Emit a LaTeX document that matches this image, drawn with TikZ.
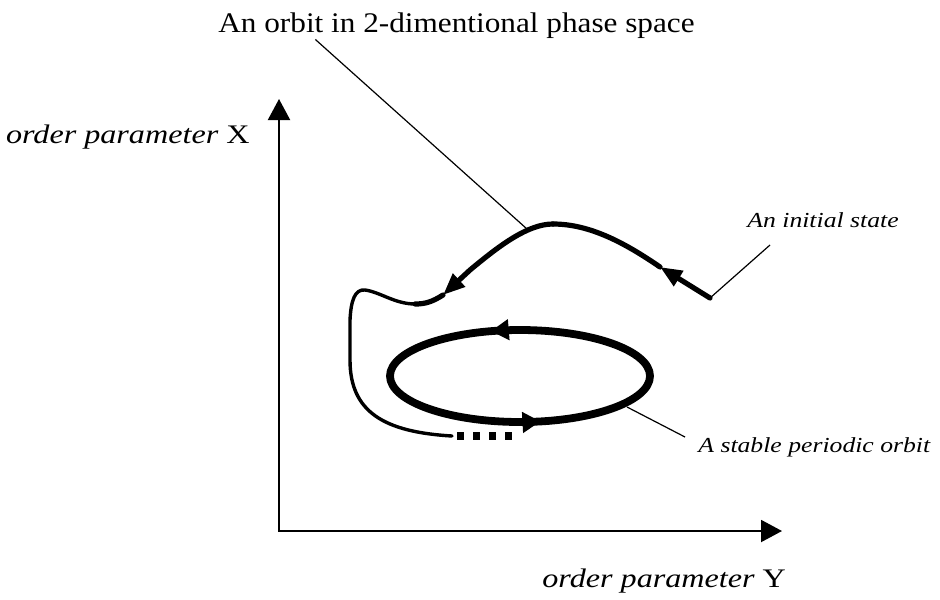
\documentclass[tikz,border=0pt]{standalone}
\usepackage{fontspec}
\setmainfont{Liberation Serif}
\newfontfamily\titlefont[FakeStretch=1.1]{Liberation Serif}
\newfontfamily\notefont[FakeStretch=1.2]{Liberation Serif}
\usetikzlibrary{calc,arrows.meta,decorations.markings}
\newcommand{\phaseaxistip}{Triangle[length=10.5pt,width=11pt]}
\newcommand{\flowtip}{Triangle[length=11pt,width=8.5pt]}

\begin{document}
\begin{tikzpicture}[
    x=0.5pt, y=-0.5pt,
    axisline/.style={{\phaseaxistip}-{\phaseaxistip}, line width=1pt},
    leader/.style={line width=0.6pt},
    orbitthick/.style={line width=2.6pt, line cap=round, line join=round},
    orbitthin/.style={line width=1.7pt, line cap=round, line join=round},
    flow/.style={orbitthick, -{\flowtip}},
    limitcycle/.style={line width=3.9pt},
    tailsq/.style={line width=4pt, dash pattern=on 3.5pt off 4.5pt},
    cyclemarks/.style={postaction={decorate}, decoration={markings,
        mark=at position 0.30 with {\arrow{Triangle[length=9pt,width=10pt]}},
        mark=at position 0.785 with {\arrow{Triangle[length=9pt,width=10pt]}}}},
    axtxt/.style={inner sep=0pt, font=\notefont\fontsize{13.4}{16}\selectfont\itshape},
    notetxt/.style={inner sep=0pt, font=\notefont\fontsize{10.7}{13}\selectfont\itshape},
    ttltxt/.style={inner sep=0pt, font=\titlefont\fontsize{14.2}{16}\selectfont}
]
  \useasboundingbox (0,0) rectangle (940,599);

  \coordinate (origin) at (279,531);
  \coordinate (ytip) at (279,99);
  \coordinate (xtip) at (782,531);
  \coordinate (init) at (710,298);
  \coordinate (flow-1) at (660,267);
  \coordinate (peak) at (553,224);
  \coordinate (peakhit) at (527,229);
  \coordinate (flow-2) at (443,295);
  \coordinate (dip) at (415,304);
  \coordinate (trail) at (452,436);
  \coordinate (cyclehit) at (627,407);
  \coordinate (center) at (520,376);
  \coordinate (initfoot) at (770,245);
  \coordinate (stablefoot) at (685,437);

  % axes
  \draw[axisline] (ytip) -- (origin) -- (xtip);
  \node[axtxt, anchor=base east] (xlabel) at (250,143) {order parameter {\upshape X}};
  \node[axtxt, anchor=base west] (ylabel) at (542,587) {order parameter {\upshape Y}};

  % labels
  \node[ttltxt, anchor=base west] (title) at (218,33) {An orbit in 2-dimentional phase space};
  \node[notetxt, anchor=base west] (initlabel) at (747,227) {An initial state};
  \node[notetxt, anchor=base west] (stablelabel) at (698,452) {A stable periodic orbit};

  % orbit from the initial state
  \draw[flow] (init) -- (flow-1);
  \draw[orbitthick] (flow-1) .. controls (625,243) and (590,224) .. (peak);
  \draw[flow] (peak) .. controls (528,224) and (500,245) .. (470,270) -- (flow-2);
  \draw[orbitthick] (flow-2) .. controls (432,302) and (425,304) .. (dip);
  \draw[orbitthin] (dip) .. controls (395,304) and (380,292) .. (365,290)
    .. controls (355,289) and (351,300) .. (350,320) -- (350,360)
    .. controls (350,412) and (384,432) .. (trail);
  \draw[tailsq] ([xshift=2.5pt]trail) -- ([xshift=30.5pt]trail);

  % stable periodic orbit
  \draw[limitcycle, cyclemarks] (center) ellipse [x radius=65pt, y radius=23pt];

  \draw[leader] ($(title.south west)!0.204!(title.south east)$) -- (peakhit);
  \draw[leader] (initfoot) -- (init);
  \draw[leader] (stablefoot) -- (cyclehit);
\end{tikzpicture}
\end{document}
